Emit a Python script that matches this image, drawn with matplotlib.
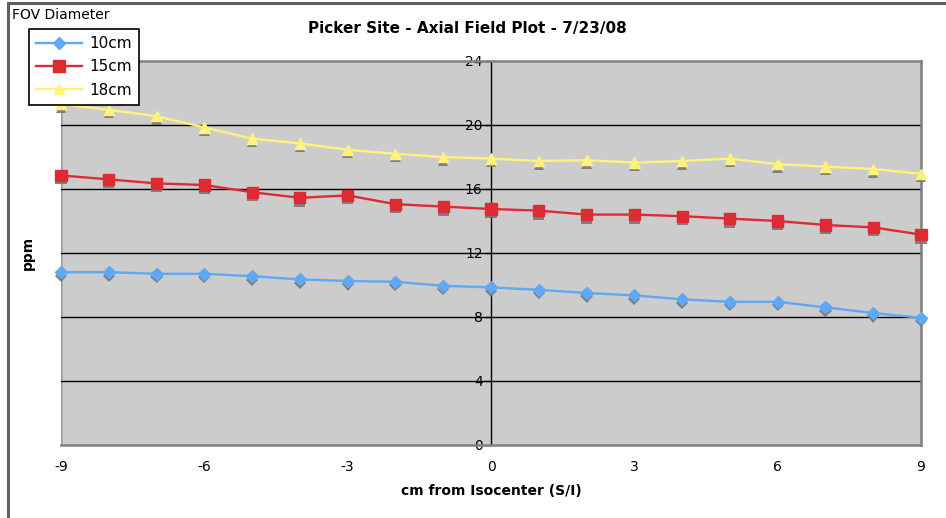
import matplotlib
matplotlib.use("Agg")
import matplotlib.pyplot as plt
import matplotlib.patheffects as pe
from matplotlib.patches import Rectangle
from matplotlib.lines import Line2D

plt.rcParams['font.family'] = ['DejaVu Sans']

# Position along the S/I axis (cm from isocenter)
positions = [-9, -8, -7, -6, -5, -4, -3, -2, -1, 0, 1, 2, 3, 4, 5, 6, 7, 8, 9]

# Field homogeneity (ppm) per FOV diameter
fov_10cm = [10.8, 10.8, 10.7, 10.7, 10.55, 10.35, 10.25, 10.2, 9.95, 9.85,
            9.7, 9.5, 9.35, 9.1, 8.95, 8.95, 8.6, 8.25, 7.95]
fov_15cm = [16.85, 16.6, 16.35, 16.25, 15.8, 15.45, 15.6, 15.05, 14.9, 14.75,
            14.65, 14.4, 14.4, 14.3, 14.15, 14.0, 13.75, 13.6, 13.15]
fov_18cm = [21.3, 20.95, 20.55, 19.85, 19.15, 18.85, 18.45, 18.2, 18.0, 17.9,
            17.75, 17.8, 17.65, 17.75, 17.9, 17.55, 17.4, 17.25, 16.95]

series_labels = ['10cm', '15cm', '18cm']
series_values = [fov_10cm, fov_15cm, fov_18cm]
series_colors = ['#5fa8f5', '#dd2a33', '#fff27a']
series_markers = ['D', 's', '^']
marker_sizes = [6.2, 8, 7.5]

x_ticks = [-9, -6, -3, 0, 3, 6, 9]
y_ticks = [0, 4, 8, 12, 16, 20, 24]

W, H = 946, 518
fig = plt.figure(figsize=(W / 100, H / 100), dpi=100)

# Outer chart frame
fig.patches.append(Rectangle((8 / W, -0.05), 1.2, 1 - 2.5 / H + 0.05,
                             transform=fig.transFigure, fill=False,
                             edgecolor='#606060', linewidth=2.2))

ax = fig.add_axes([61 / W, 1 - 445 / H, 860 / W, 384 / H])
ax.set_facecolor('#cccccc')
ax.set_xlim(-9, 9)
ax.set_ylim(0, 24)

for s in ['top', 'right', 'bottom']:
    ax.spines[s].set_color('#808080')
    ax.spines[s].set_linewidth(1.8)
ax.spines['left'].set_position(('data', 0))
ax.spines['left'].set_color('black')
ax.spines['left'].set_linewidth(1.0)
ax.axvline(-9, color='#a0a0a0', linewidth=1.8, zorder=1)

for yv in y_ticks[1:-1]:
    ax.axhline(yv, color='black', linewidth=1.0, zorder=1)

ax.set_xticks(x_ticks)
ax.set_xticklabels([str(v) for v in x_ticks])
ax.set_yticks(y_ticks)
ax.set_yticklabels([str(v) for v in y_ticks])
ax.tick_params(axis='x', length=0, pad=11, labelsize=10)
ax.tick_params(axis='y', length=4, width=1, color='black', pad=2, labelsize=10)

shadow = [pe.SimplePatchShadow(offset=(0, -2.5), shadow_rgbFace='#777777', alpha=0.9),
          pe.Normal()]

for vals, lab, col, mk, ms in zip(series_values, series_labels, series_colors,
                                  series_markers, marker_sizes):
    ax.plot(positions, vals, color=col, linewidth=1.7, zorder=3, clip_on=False)
    ax.plot(positions, vals, linestyle='none', marker=mk, markersize=ms,
            markerfacecolor=col, markeredgecolor=col, zorder=4,
            clip_on=False, path_effects=shadow)

ax.set_xlabel('cm from Isocenter (S/I)', fontsize=10, fontweight='bold', labelpad=7)
ax.set_ylabel('ppm', fontsize=10, fontweight='bold', labelpad=0)
ax.yaxis.set_label_coords(-0.03, 0.5)

fig.text(467 / W, 1 - 29 / H, 'Picker Site - Axial Field Plot - 7/23/08',
         ha='center', va='center', fontsize=11, fontweight='bold')
fig.text(12 / W, 1 - 15 / H, 'FOV Diameter', ha='left', va='center', fontsize=10)

handles = [Line2D([], [], color=c, linewidth=1.7, marker=m, markersize=s,
                  markerfacecolor=c, markeredgecolor=c)
           for c, m, s in zip(series_colors, series_markers, marker_sizes)]
leg = fig.legend(handles, series_labels, loc='upper left',
                 bbox_to_anchor=(29 / W, 1 - 29 / H), borderaxespad=0,
                 fancybox=False, framealpha=1, edgecolor='black',
                 fontsize=11, handlelength=3.0, handletextpad=0.5,
                 borderpad=0.45, labelspacing=0.55)
leg.get_frame().set_linewidth(1.2)
leg.set_zorder(10)

fig.savefig('out.png', dpi=100)
